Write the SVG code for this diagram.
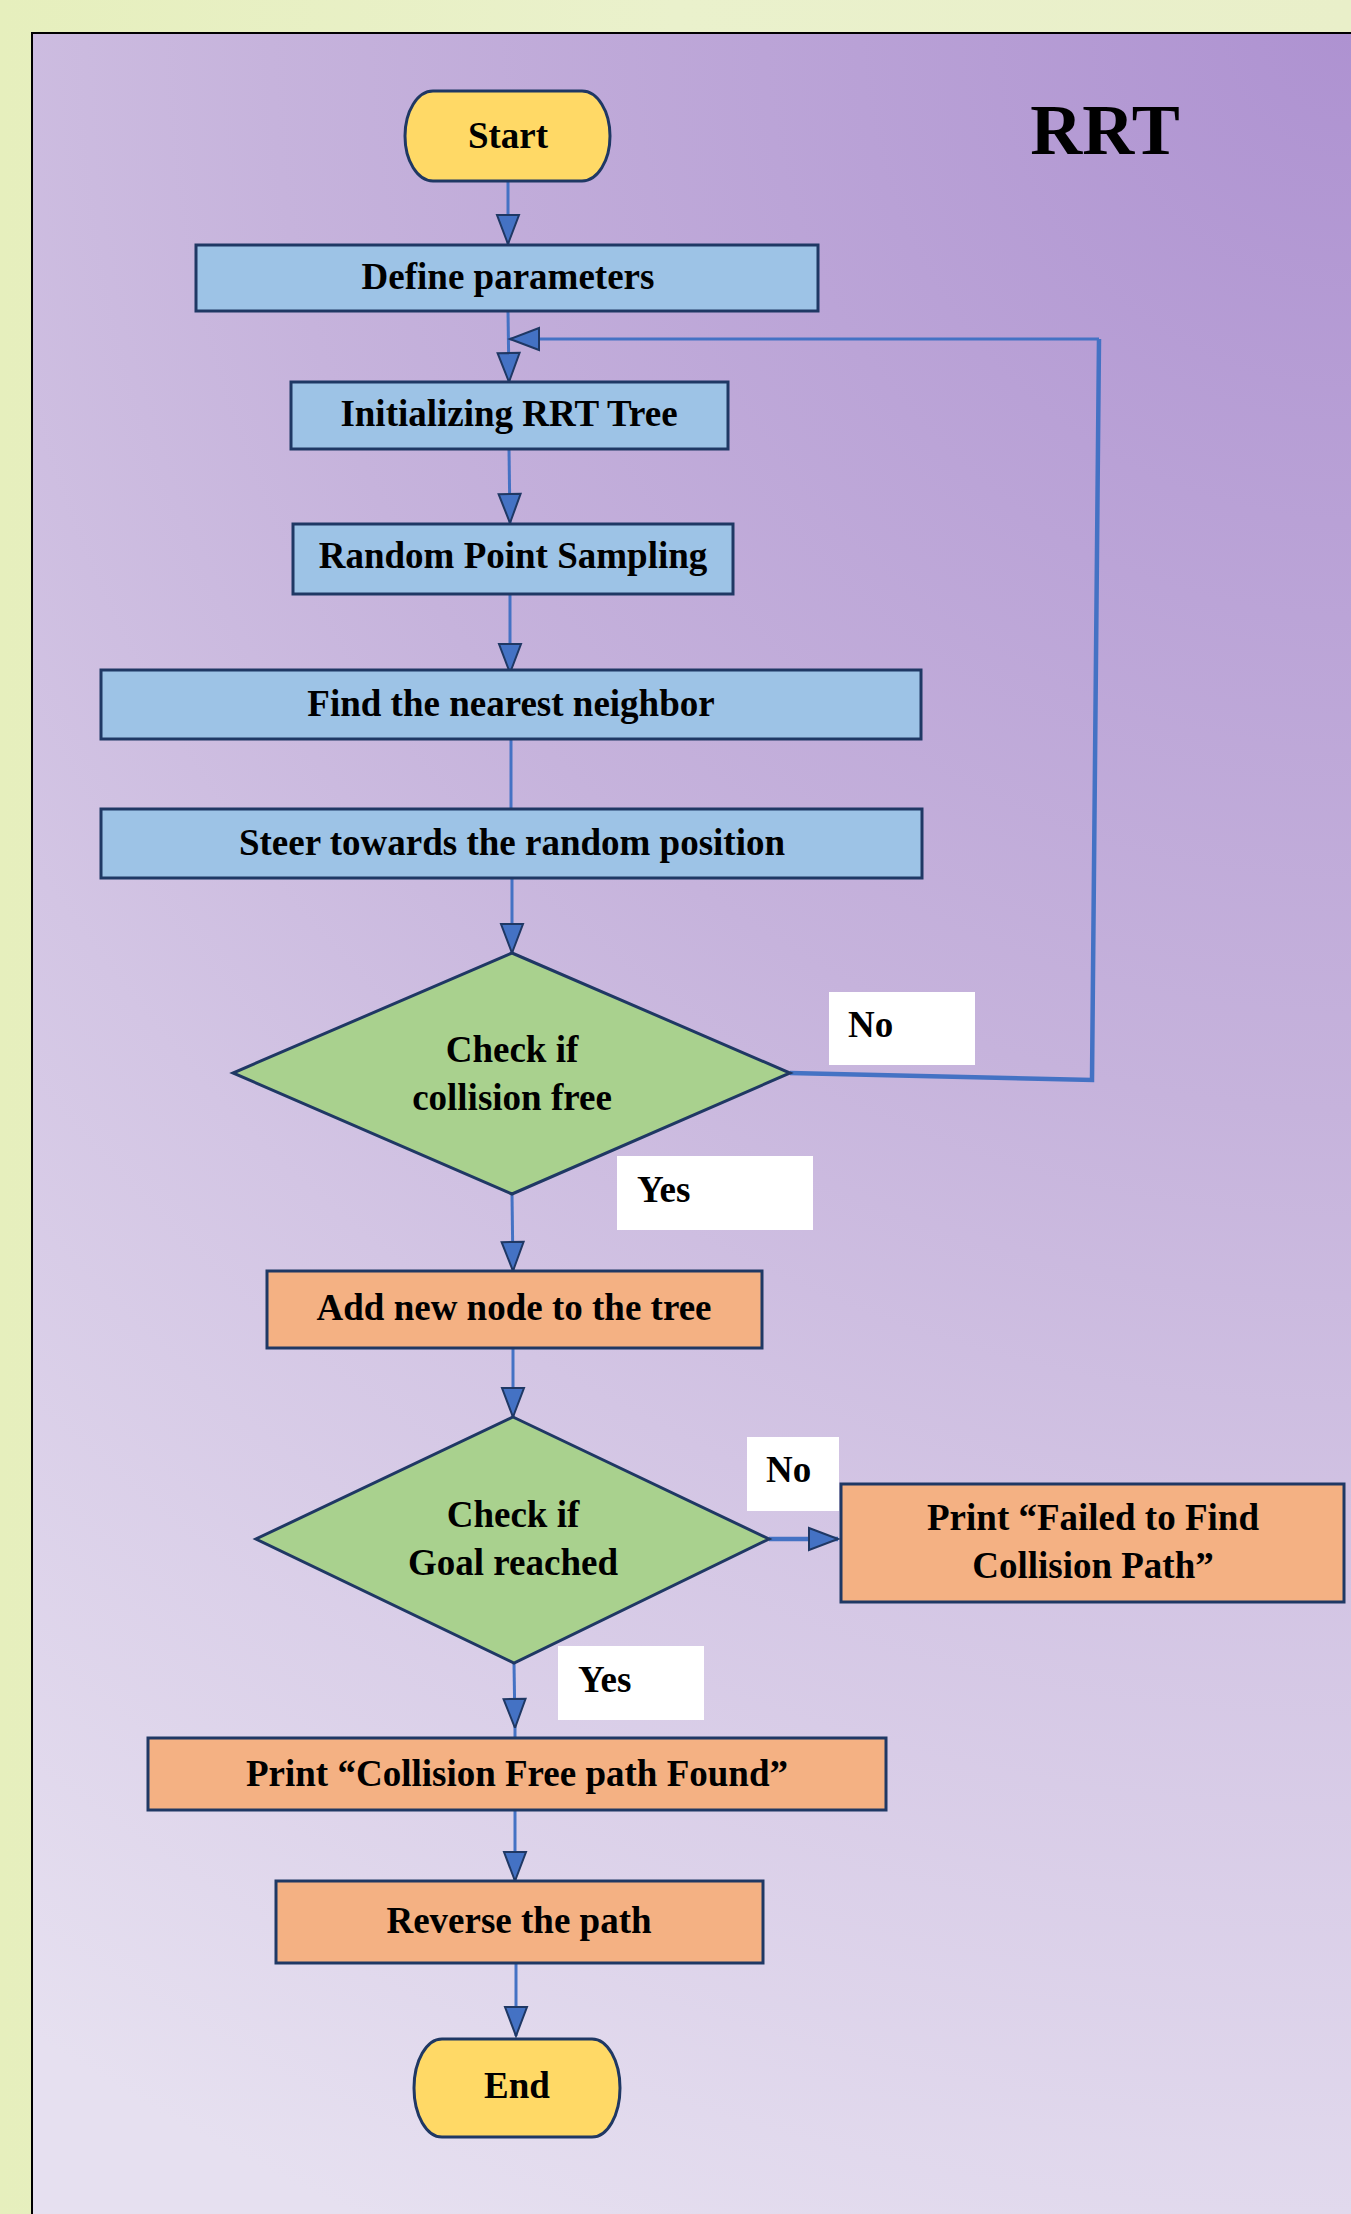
<svg xmlns="http://www.w3.org/2000/svg" width="1351" height="2214" viewBox="0 0 1351 2214">
<defs>
<linearGradient id="outer" x1="0" y1="0" x2="1" y2="0">
<stop offset="0" stop-color="#e6efbd"/>
<stop offset="0.5" stop-color="#eaf1cc"/>
<stop offset="1" stop-color="#e9efc9"/>
</linearGradient>
<radialGradient id="bg" gradientUnits="userSpaceOnUse" cx="1351" cy="30" r="2400">
<stop offset="0" stop-color="#ae92d1"/>
<stop offset="0.45" stop-color="#c6b3dc"/>
<stop offset="0.65" stop-color="#d3c5e4"/>
<stop offset="1" stop-color="#e6e0f0"/>
</radialGradient>
<marker id="ah" viewBox="-32 -14 34 28" refX="0" refY="0" markerWidth="34" markerHeight="28" markerUnits="userSpaceOnUse" orient="auto" overflow="visible">
<path d="M0,0 L-29,-11 L-29,11 Z" fill="#4472c4" stroke="#1f3864" stroke-width="2" stroke-linejoin="miter"/>
</marker>
<style>
.box{stroke:#1f3864;stroke-width:3}
.blue{fill:#9dc3e6}
.orange{fill:#f4b183}
.green{fill:#a9d18e}
.yellow{fill:#ffd966}
.lbl{fill:#ffffff}
.t{font-family:"Liberation Serif","Times New Roman",serif;font-weight:bold;font-size:37px;fill:#000;text-anchor:middle}
.tl{font-family:"Liberation Serif","Times New Roman",serif;font-weight:bold;font-size:37px;fill:#000}
.c{fill:none;stroke:#4472c4;stroke-width:3}
.ct{fill:none;stroke:#4472c4;stroke-width:4.5}
</style>
</defs>
<rect x="0" y="0" width="1351" height="2214" fill="url(#outer)"/>
<rect x="32" y="33" width="1340" height="2200" fill="url(#bg)" stroke="#000" stroke-width="2"/>
<text class="t" x="1105" y="154" style="font-size:72px">RRT</text>

<g id="connectors">
<line class="c" x1="508" y1="181" x2="508" y2="244" marker-end="url(#ah)"/>
<line class="c" x1="508" y1="311" x2="509" y2="382" marker-end="url(#ah)"/>
<line class="c" x1="509" y1="449" x2="510" y2="523" marker-end="url(#ah)"/>
<line class="c" x1="510" y1="594" x2="510" y2="673" marker-end="url(#ah)"/>
<line class="c" x1="511" y1="739" x2="511" y2="809"/>
<line class="c" x1="512" y1="878" x2="512" y2="953" marker-end="url(#ah)"/>
<polyline class="ct" points="790,1073 1092,1080 1099,339"/>
<line class="c" x1="1099" y1="339" x2="510" y2="339" stroke-width="4" marker-end="url(#ah)"/>
<line class="c" x1="512" y1="1194" x2="513" y2="1271" marker-end="url(#ah)"/>
<line class="c" x1="513" y1="1348" x2="513" y2="1417" marker-end="url(#ah)"/>
<line class="ct" x1="769" y1="1539" x2="838" y2="1539" marker-end="url(#ah)"/>
<line class="c" x1="514" y1="1663" x2="515" y2="1728" marker-end="url(#ah)"/>
<line class="c" x1="515" y1="1728" x2="515" y2="1738"/>
<line class="c" x1="515" y1="1810" x2="515" y2="1881" marker-end="url(#ah)"/>
<line class="c" x1="516" y1="1963" x2="516" y2="2036" marker-end="url(#ah)"/>
</g>

<g id="start">
<rect class="box yellow" x="405" y="91" width="205" height="90" rx="28" ry="45"/>
<text class="t" x="508" y="148">Start</text>
</g>
<g id="define">
<rect class="box blue" x="196" y="245" width="622" height="66"/>
<text class="t" x="508" y="289">Define parameters</text>
</g>
<g id="init">
<rect class="box blue" x="291" y="382" width="437" height="67"/>
<text class="t" x="509" y="426">Initializing RRT Tree</text>
</g>
<g id="sample">
<rect class="box blue" x="293" y="524" width="440" height="70"/>
<text class="t" x="513" y="568">Random Point Sampling</text>
</g>
<g id="nearest">
<rect class="box blue" x="101" y="670" width="820" height="69"/>
<text class="t" x="511" y="716">Find the nearest neighbor</text>
</g>
<g id="steer">
<rect class="box blue" x="101" y="809" width="821" height="69"/>
<text class="t" x="512" y="855">Steer towards the random position</text>
</g>
<g id="collision">
<polygon class="box green" points="512,953 790,1073 512,1194 233,1073"/>
<text class="t" x="512" y="1062">Check if</text>
<text class="t" x="512" y="1110">collision free</text>
</g>
<g id="label-no1">
<rect class="lbl" x="829" y="992" width="146" height="73"/>
<text class="tl" x="848" y="1037">No</text>
</g>
<g id="label-yes1">
<rect class="lbl" x="617" y="1156" width="196" height="74"/>
<text class="tl" x="637" y="1202">Yes</text>
</g>
<g id="addnode">
<rect class="box orange" x="267" y="1271" width="495" height="77"/>
<text class="t" x="514" y="1320">Add new node to the tree</text>
</g>
<g id="goal">
<polygon class="box green" points="513,1417 769,1539 514,1663 256,1539"/>
<text class="t" x="513" y="1527">Check if</text>
<text class="t" x="513" y="1575">Goal reached</text>
</g>
<g id="label-no2">
<rect class="lbl" x="747" y="1437" width="92" height="74"/>
<text class="tl" x="766" y="1482">No</text>
</g>
<g id="failed">
<rect class="box orange" x="841" y="1484" width="503" height="118"/>
<text class="t" x="1093" y="1530">Print “Failed to Find</text>
<text class="t" x="1093" y="1578">Collision Path”</text>
</g>
<g id="label-yes2">
<rect class="lbl" x="558" y="1646" width="146" height="74"/>
<text class="tl" x="578" y="1692">Yes</text>
</g>
<g id="found">
<rect class="box orange" x="148" y="1738" width="738" height="72"/>
<text class="t" x="517" y="1786">Print “Collision Free path Found”</text>
</g>
<g id="reverse">
<rect class="box orange" x="276" y="1881" width="487" height="82"/>
<text class="t" x="519" y="1933">Reverse the path</text>
</g>
<g id="end">
<rect class="box yellow" x="414" y="2039" width="206" height="98" rx="28" ry="49"/>
<text class="t" x="517" y="2098">End</text>
</g>
</svg>
